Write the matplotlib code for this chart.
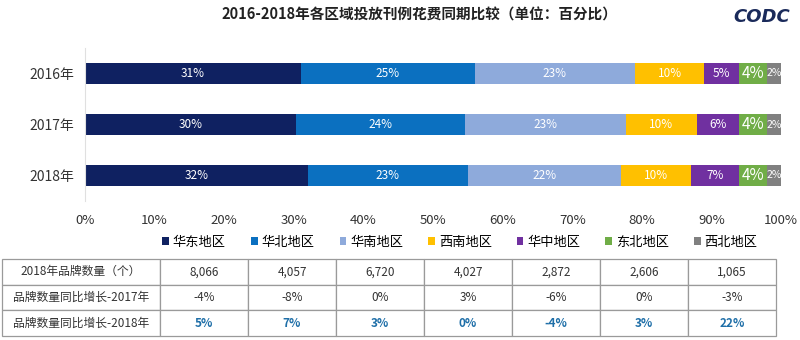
import numpy as np
import matplotlib
matplotlib.use("Agg")
import matplotlib.pyplot as plt

plt.rcParams['font.family'] = ['Noto Sans CJK SC', 'DejaVu Sans']

# data
regions = ['华东地区', '华北地区', '华南地区', '西南地区', '华中地区', '东北地区', '西北地区']
years = ['2016年', '2017年', '2018年']
share_2016 = [31, 25, 23, 10, 5, 4, 2]
share_2017 = [30, 24, 23, 10, 6, 4, 2]
share_2018 = [32, 23, 22, 10, 7, 4, 2]
brand_count_2018 = [8066, 4057, 6720, 4027, 2872, 2606, 1065]
growth_2017 = [-4, -8, 0, 3, -6, 0, -3]
growth_2018 = [5, 7, 3, 0, -4, 3, 22]
row_names = ['2018年品牌数量（个）', '品牌数量同比增长-2017年', '品牌数量同比增长-2018年']
xticks = [0, 10, 20, 30, 40, 50, 60, 70, 80, 90, 100]

colors = ['#0f2161', '#0b70c0', '#8eaadb', '#ffc000', '#7030a0', '#70ad47', '#808080']

W, H = 800, 340
fig = plt.figure(figsize=(W / 100, H / 100), dpi=100)

def px_axes(x0, y0, x1, y1):
    # pixel box (top-left origin) -> figure fraction axes
    return fig.add_axes([x0 / W, 1 - y1 / H, (x1 - x0) / W, (y1 - y0) / H])

ax = px_axes(85, 48, 781, 201)

shares = np.array([share_2016, share_2017, share_2018], dtype=float)
shares = shares / shares.sum(axis=1, keepdims=True) * 100
raw = [share_2016, share_2017, share_2018]
ypos = np.arange(len(years))
left = np.zeros(len(years))
for j, reg in enumerate(regions):
    w = shares[:, j]
    ax.barh(ypos, w, left=left, height=0.4, color=colors[j], label=reg)
    for i in range(len(years)):
        size = 8.5
        if j == 5:
            size = 11
        elif j == 6:
            size = 7.5
        ax.text(left[i] + w[i] / 2, ypos[i], f"{raw[i][j]}%", ha='center', va='center',
                color='white', fontsize=size)
    left += w

ax.set_ylim(2.5, -0.5)
ax.set_xlim(0, 100)
ax.set_yticks(ypos)
ax.set_yticklabels(years, fontsize=10, color='#333333')
ax.set_xticks(xticks)
ax.set_xticklabels([f"{t}%" for t in xticks], fontsize=9.5, color='#333333')
ax.tick_params(length=0)
ax.tick_params(axis='y', pad=8)
ax.tick_params(axis='x', pad=9)
for s in ['top', 'right', 'bottom']:
    ax.spines[s].set_visible(False)
ax.spines['left'].set_color('#e0e0e0')

fig.legend(loc='center', bbox_to_anchor=(460 / W, 1 - 242 / H), ncol=7, frameon=False,
           fontsize=9.5, handlelength=0.5, handleheight=0.5, handletextpad=0.3,
           columnspacing=1.9)

fig.text(419 / W, 1 - 15 / H, '2016-2018年各区域投放刊例花费同期比较（单位：百分比）',
         ha='center', va='center', fontsize=10.5, fontweight='bold', color='#222222')
fig.text(762 / W, 1 - 17 / H, 'CODC', ha='center', va='center', fontsize=13,
         family='DejaVu Sans', style='italic', fontweight='bold', color='#1a2a5a')

# table
tax = px_axes(2, 259, 776, 336)
tax.axis('off')
cells = [[row_names[0]] + [f"{v:,}" for v in brand_count_2018],
         [row_names[1]] + [f"{v}%" for v in growth_2017],
         [row_names[2]] + [f"{v}%" for v in growth_2018]]
tw = 774
tbl = tax.table(cellText=cells, bbox=[0, 0, 1, 1], cellLoc='center',
                colWidths=[158 / tw] + [88 / tw] * 7)
tbl.auto_set_font_size(False)
for (r, c), cell in tbl.get_celld().items():
    cell.set_edgecolor('#9a9a9a')
    cell.set_linewidth(0.9)
    cell.get_text().set_fontsize(8.5)
    cell.get_text().set_color('#333333')
    if r == 2 and c > 0:
        cell.get_text().set_color('#1f6fa8')
        cell.get_text().set_fontweight('bold')

fig.savefig('out.png', dpi=100)
